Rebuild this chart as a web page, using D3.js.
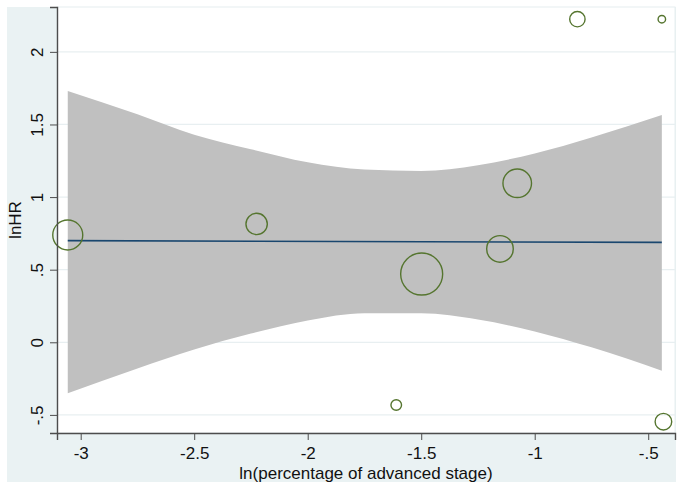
<!DOCTYPE html>
<html>
<head>
<meta charset="utf-8">
<script src="https://cdn.jsdelivr.net/npm/d3@7"></script>
<style>
  body { margin: 0; background: #ffffff; }
  svg { display: block; font-family: "Liberation Sans", Arial, sans-serif; }
</style>
</head>
<body>
<script>
// Studies: ln(percentage of advanced stage), lnHR and weight (bubble area)
const studyX = [-3.057, -2.225, -1.498, -1.153, -1.077, -0.812, -0.44, -1.61, -0.433];
const studyY = [0.739, 0.815, 0.470, 0.643, 1.095, 2.225, 2.225, -0.432, -0.547];
const studyW = [225, 114, 441, 177, 204, 59, 14, 28, 69];

// Fitted meta-regression line
const fitX = [-3.057, -0.44];
const fitY = [0.700, 0.688];

// Confidence band read along x
const bandX = [-3.057, -2.75, -2.5, -2.25, -2.0, -1.75, -1.5, -1.25, -1.0, -0.75, -0.44];
const bandUp = [1.731, 1.57, 1.43, 1.33, 1.24, 1.19, 1.18, 1.22, 1.30, 1.41, 1.565];
const bandLo = [-0.351, -0.18, -0.05, 0.06, 0.15, 0.20, 0.20, 0.157, 0.075, -0.035, -0.196];

const xTicks = [-3, -2.5, -2, -1.5, -1, -0.5];
const yTicks = [-0.5, 0, 0.5, 1, 1.5, 2];

const width = 683, height = 489;
const outer = { left: 7, top: 7, right: 676, bottom: 482 };
const margin = { top: 7, bottom: 56, left: 57, right: 8 };

const fmt = v => String(v).replace(/^(-?)0\./, "$1.");

let svg = d3.select('body')
            .append('svg')
            .attr('width', width)
            .attr('height', height);

// Graph background
svg.append('rect')
   .attr('x', outer.left)
   .attr('y', outer.top)
   .attr('width', outer.right - outer.left)
   .attr('height', outer.bottom - outer.top)
   .attr('fill', '#eaf2f3');

// Scales
const x = d3.scaleLinear()
    .domain([-3.1044, -0.382])
    .range([margin.left, width - margin.right]);

const y = d3.scaleLinear()
    .domain([-0.6247, 2.309])
    .range([height - margin.bottom, margin.top]);

const r = d3.scaleSqrt()
    .domain([0, d3.max(studyW)])
    .range([0, 21]);

// Plot region
svg.append('rect')
   .attr('x', margin.left)
   .attr('y', margin.top)
   .attr('width', width - margin.right - margin.left)
   .attr('height', height - margin.bottom - margin.top)
   .attr('fill', '#ffffff')
   .attr('stroke', '#e6eef0')
   .attr('stroke-width', 1);

// Gridlines
svg.append('g')
   .selectAll('line')
   .data(yTicks)
   .enter()
   .append('line')
   .attr('x1', margin.left)
   .attr('x2', width - margin.right)
   .attr('y1', d => y(d))
   .attr('y2', d => y(d))
   .attr('stroke', '#e8eff1')
   .attr('stroke-width', 1.2);

// Confidence band
const band = bandX.map((v, i) => ({ x: v, up: bandUp[i], lo: bandLo[i] }));
const area = d3.area()
    .x(d => x(d.x))
    .y0(d => y(d.lo))
    .y1(d => y(d.up))
    .curve(d3.curveMonotoneX);

svg.append('path')
   .datum(band)
   .attr('fill', '#c0c0c0')
   .attr('d', area);

// Fitted line
const line = d3.line()
    .x(d => x(d[0]))
    .y(d => y(d[1]));

svg.append('path')
   .datum(fitX.map((v, i) => [v, fitY[i]]))
   .attr('fill', 'none')
   .attr('stroke', '#1a476f')
   .attr('stroke-width', 1.6)
   .attr('d', line);

// Bubbles
svg.append('g')
   .selectAll('circle')
   .data(studyX.map((v, i) => ({ x: v, y: studyY[i], w: studyW[i] })))
   .enter()
   .append('circle')
   .attr('cx', d => x(d.x))
   .attr('cy', d => y(d.y))
   .attr('r', d => r(d.w))
   .attr('fill', 'none')
   .attr('stroke', '#55752f')
   .attr('stroke-width', 1.4);

// Axes
const xAxis = svg.append('g')
   .attr('transform', `translate(0,${height - margin.bottom})`)
   .call(d3.axisBottom(x).tickValues(xTicks).tickFormat(fmt).tickSize(7));

const yAxis = svg.append('g')
   .attr('transform', `translate(${margin.left},0)`)
   .call(d3.axisLeft(y).tickValues(yTicks).tickFormat(fmt).tickSize(7));

[xAxis, yAxis].forEach(g => {
    g.select('.domain').attr('stroke', '#4d4d4d').attr('stroke-width', 1.4);
    g.selectAll('.tick line').attr('stroke', '#4d4d4d').attr('stroke-width', 1);
    g.selectAll('.tick text')
     .attr('fill', '#111')
     .style('font-size', '17px')
     .style('font-family', '"Liberation Sans", Arial, sans-serif');
});

// Rotate y tick labels like Stata
yAxis.selectAll('.tick text')
     .attr('x', null)
     .attr('dy', null)
     .attr('text-anchor', 'middle')
     .attr('transform', 'translate(-14,0) rotate(-90)');

// x tick labels: baseline placed just under the ticks
xAxis.selectAll('.tick text')
     .attr('y', 26)
     .attr('dy', null);

// Axis titles
svg.append('text')
   .attr('x', (margin.left + width - margin.right) / 2)
   .attr('y', 479)
   .attr('text-anchor', 'middle')
   .style('font-size', '17px')
   .attr('fill', '#111')
   .text('ln(percentage of advanced stage)');

svg.append('text')
   .attr('transform', `translate(21,${(margin.top + height - margin.bottom) / 2}) rotate(-90)`)
   .attr('text-anchor', 'middle')
   .style('font-size', '17px')
   .attr('fill', '#111')
   .text('lnHR');
</script>
</body>
</html>
